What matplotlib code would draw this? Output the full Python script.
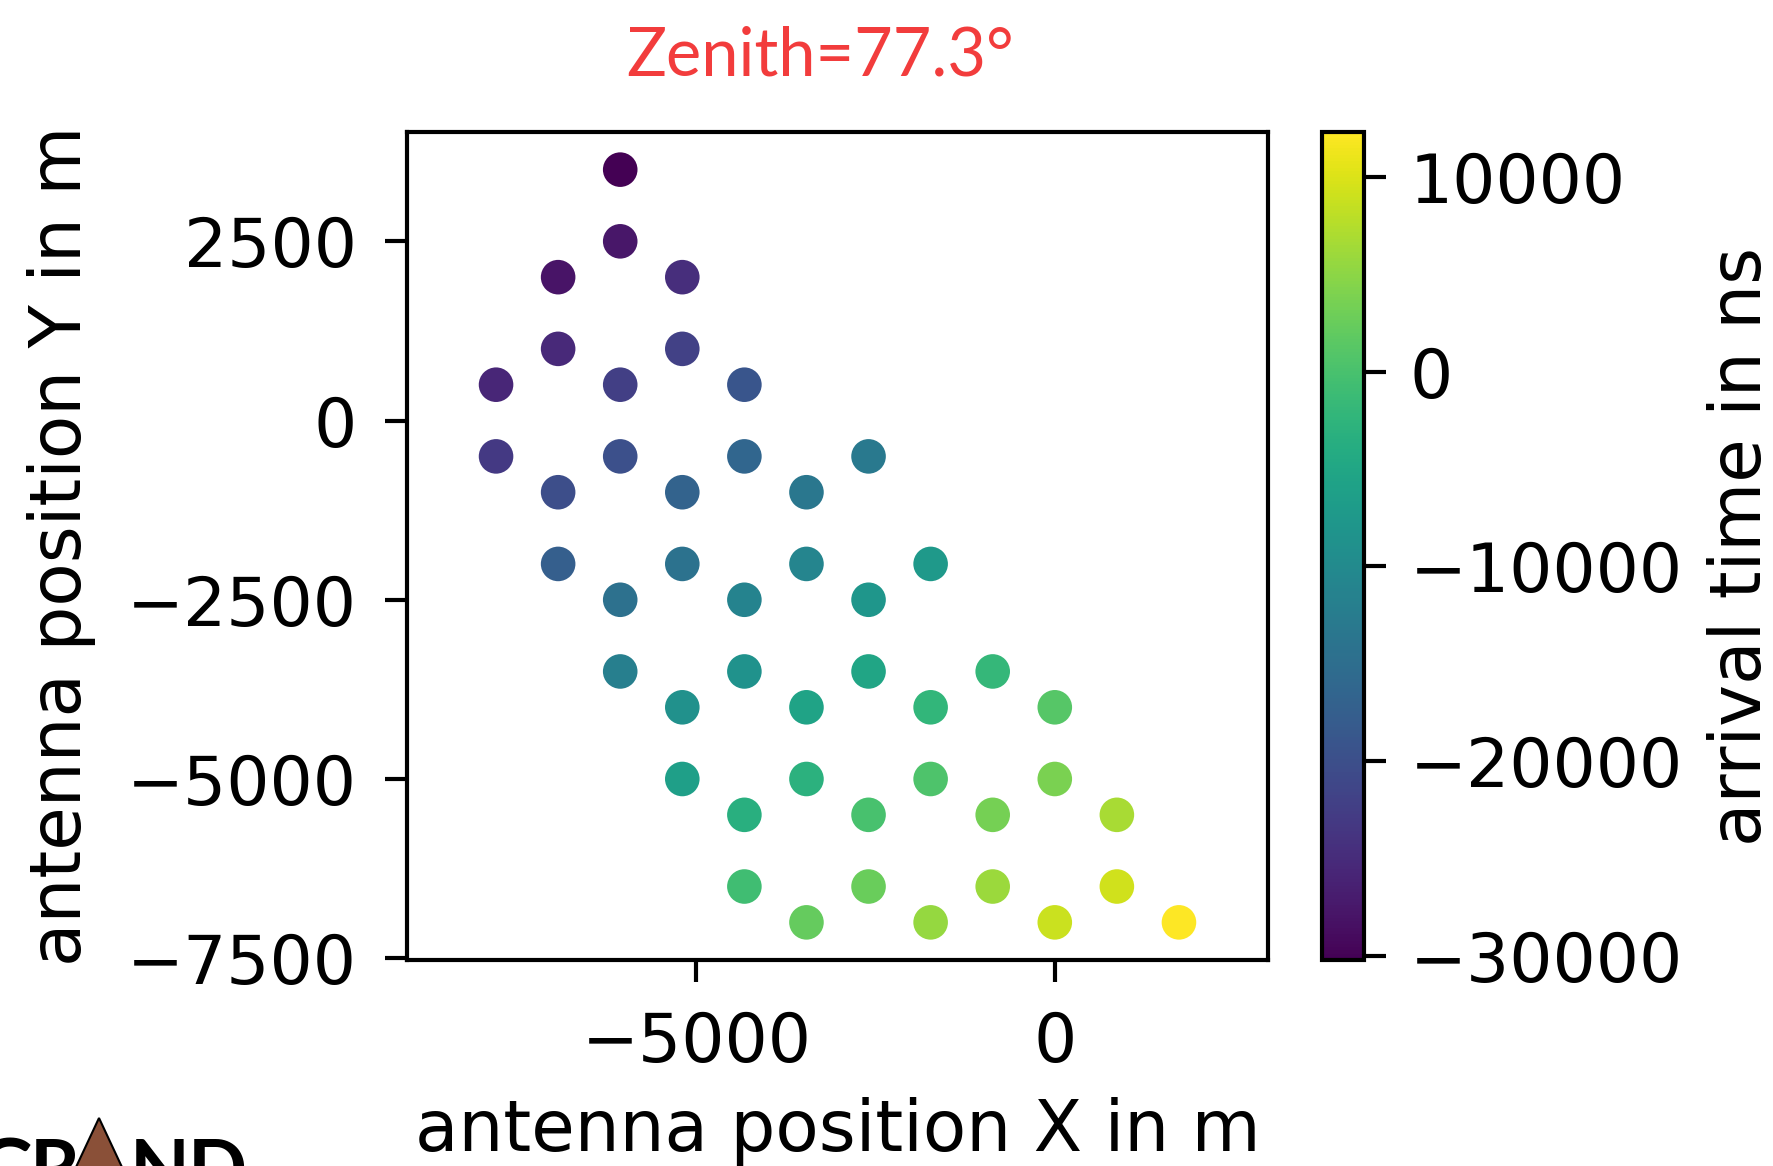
import matplotlib
matplotlib.use("Agg")
import matplotlib.pyplot as plt
from matplotlib.patches import Polygon
import numpy as np

# antenna positions (m) and arrival times (ns)
x_pos = [-7794, -7794,
         -6928, -6928, -6928, -6928,
         -6062, -6062, -6062, -6062, -6062, -6062,
         -5196, -5196, -5196, -5196, -5196, -5196,
         -4330, -4330, -4330, -4330, -4330, -4330,
         -3464, -3464, -3464, -3464, -3464,
         -2598, -2598, -2598, -2598, -2598,
         -1732, -1732, -1732, -1732,
         -866, -866, -866,
         0, 0, 0,
         866, 866,
         1732]
y_pos = [500, -500,
         2000, 1000, -1000, -2000,
         3500, 2500, 500, -500, -2500, -3500,
         2000, 1000, -1000, -2000, -4000, -5000,
         500, -500, -2500, -3500, -5500, -6500,
         -1000, -2000, -4000, -5000, -7000,
         -500, -2500, -3500, -5500, -6500,
         -2000, -4000, -5000, -7000,
         -3500, -5500, -6500,
         -4000, -5000, -7000,
         -5500, -6500,
         -7000]
arrival_ns = [-25700, -23100,
              -28000, -25350, -20150, -17500,
              -30200, -27600, -22350, -19750, -14550, -11950,
              -24600, -22000, -16800, -14150, -8950, -6350,
              -19000, -16400, -11200, -8600, -3350, -750,
              -13400, -10800, -5600, -3000, 2250,
              -13050, -7850, -5200, 0, 2600,
              -7450, -2250, 350, 5600,
              -1850, 3350, 5950,
              1100, 3700, 8950,
              6700, 9300,
              12300]
x_ticks = [-5000, 0]
y_ticks = [-7500, -5000, -2500, 0, 2500]
cb_ticks = [-30000, -20000, -10000, 0, 10000]

W, H = 1773, 1166
fig = plt.figure(figsize=(W / 100, H / 100), dpi=100)
plt.rcParams['font.family'] = ['DejaVu Sans']

ax = fig.add_axes([407 / W, 1 - 960 / H, (1268 - 407) / W, (960 - 132) / H])
sc = ax.scatter(x_pos, y_pos, c=arrival_ns, cmap='viridis', s=620, linewidths=0)
ax.set_aspect('equal', adjustable='datalim')
ax.set_xticks(x_ticks)
ax.set_yticks(y_ticks)
ax.tick_params(labelsize=49, length=16, width=3, pad=20)
for sp in ax.spines.values():
    sp.set_linewidth(3)
ax.set_xlabel('antenna position X in m', fontsize=51, labelpad=15)
ax.set_ylabel('antenna position Y in m', fontsize=51, labelpad=22)

cax = fig.add_axes([1322 / W, 1 - 960 / H, (1364 - 1322) / W, (960 - 132) / H])
cb = fig.colorbar(sc, cax=cax)
cb.set_ticks(cb_ticks)
cb.ax.tick_params(labelsize=49, length=16, width=3, pad=17)
cb.outline.set_linewidth(3)
cb.set_label('arrival time in ns', fontsize=51, labelpad=17)

fig.text(820 / W, 1 - 56 / H, 'Zenith=77.3°', color='#f23c3c', fontsize=48,
         family=['Lato', 'DejaVu Sans'], ha='center', va='center')

# partial GRAND logo at bottom left
base_y = 1 - 1196 / H
fig.text(5 / W, base_y, 'G', fontsize=56, family='Lato', weight='bold', ha='center', va='baseline')
fig.text(55 / W, base_y, 'R', fontsize=56, family='Lato', weight='bold', ha='center', va='baseline')
fig.text(160 / W, base_y, 'N', fontsize=56, family='Lato', weight='bold', ha='center', va='baseline')
fig.text(217 / W, base_y, 'D', fontsize=56, family='Lato', weight='bold', ha='center', va='baseline')
tri = Polygon([(70 / W, 1 - 1180 / H), (99 / W, 1 - 1118 / H), (128 / W, 1 - 1180 / H)],
              closed=True, transform=fig.transFigure, facecolor='#8a5038',
              edgecolor='black', linewidth=1.5)
fig.patches.append(tri)

fig.savefig('out.png', dpi=100)
